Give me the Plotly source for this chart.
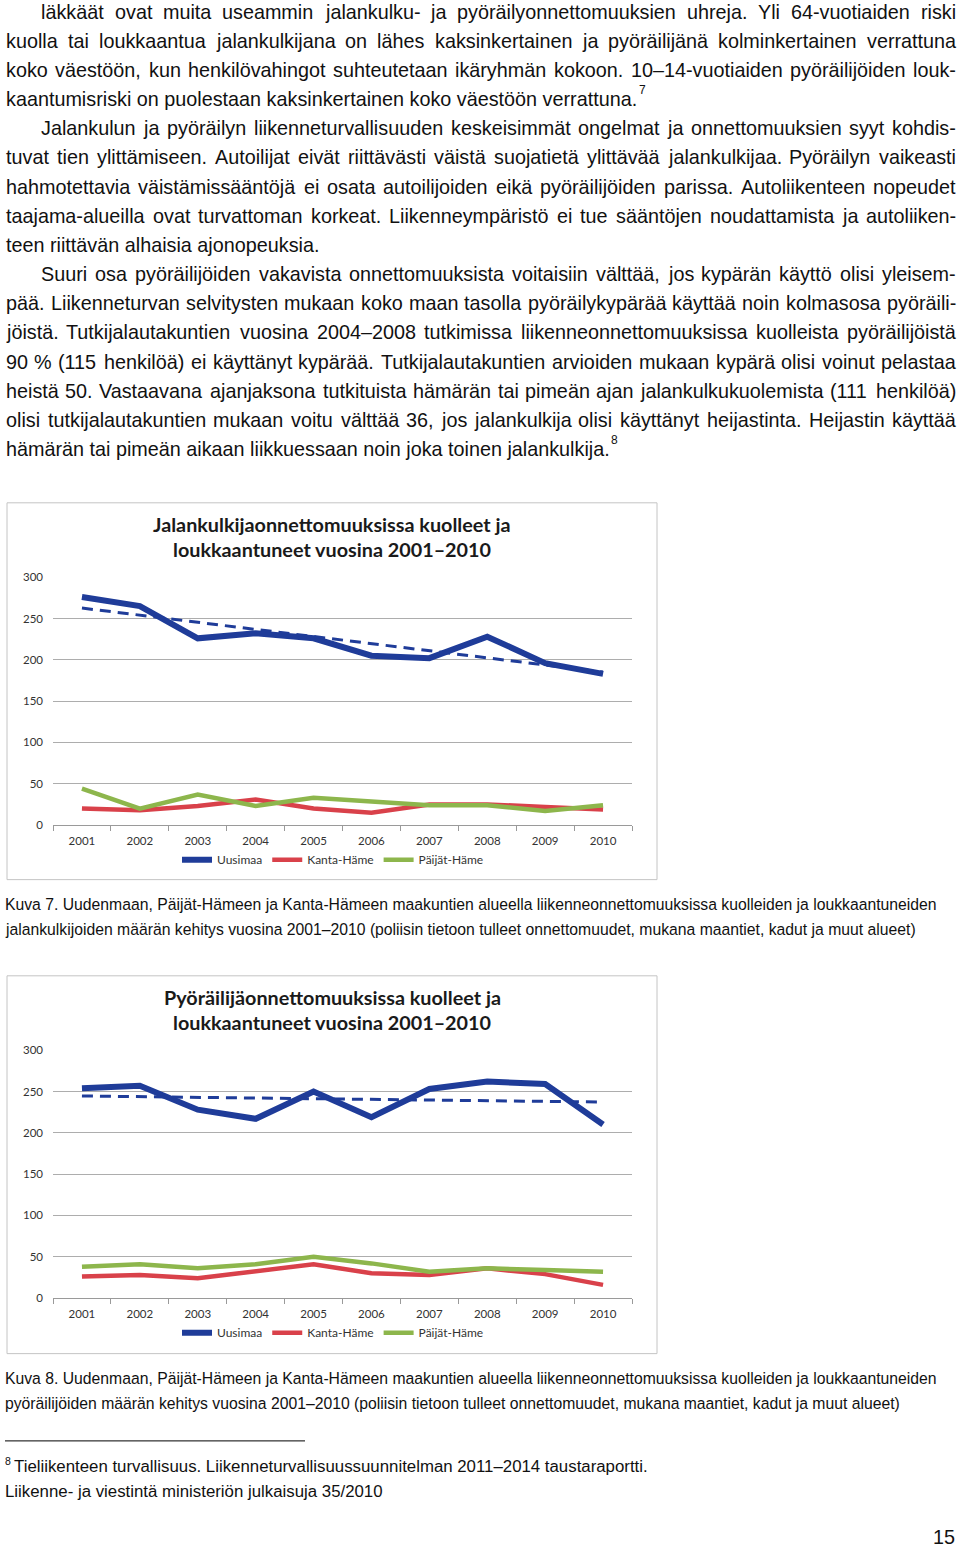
import plotly.graph_objects as go
import numpy as np

# ---------------- data ----------------
years = ["2001", "2002", "2003", "2004", "2005", "2006", "2007", "2008", "2009", "2010"]
series_names = ["Uusimaa", "Kanta-Häme", "Päijät-Häme"]
ped_uusimaa = [276, 265, 226, 232, 226, 205, 202, 228, 196, 183]
ped_kanta = [20, 18, 23, 31, 20, 15, 25, 25, 22, 19]
ped_paijat = [44, 20, 37, 23, 33, 28, 24, 24, 17, 24]
cyc_uusimaa = [254, 257, 228, 217, 250, 219, 253, 262, 259, 210]
cyc_kanta = [26, 28, 24, 33, 41, 30, 28, 36, 29, 16]
cyc_paijat = [38, 41, 36, 41, 50, 42, 32, 36, 34, 32]
y_ticks = [0, 50, 100, 150, 200, 250, 300]

title1 = ["Jalankulkijaonnettomuuksissa kuolleet ja", "loukkaantuneet vuosina 2001–2010"]
title2 = ["Pyöräilijäonnettomuuksissa kuolleet ja", "loukkaantuneet vuosina 2001–2010"]

body_lines = [
    ("läkkäät ovat muita useammin jalankulku- ja pyöräilyonnettomuuksien uhreja. Yli 64-vuotiaiden riski", True, True, None),
    ("kuolla tai loukkaantua jalankulkijana on lähes kaksinkertainen ja pyöräilijänä kolminkertainen verrattuna", False, True, None),
    ("koko väestöön, kun henkilövahingot suhteutetaan ikäryhmän kokoon. 10–14-vuotiaiden pyöräilijöiden louk-", False, True, None),
    ("kaantumisriski on puolestaan kaksinkertainen koko väestöön verrattuna.", False, False, "7"),
    ("Jalankulun ja pyöräilyn liikenneturvallisuuden keskeisimmät ongelmat ja onnettomuuksien syyt kohdis-", True, True, None),
    ("tuvat tien ylittämiseen. Autoilijat eivät riittävästi väistä suojatietä ylittävää jalankulkijaa. Pyöräilyn vaikeasti", False, True, None),
    ("hahmotettavia väistämissääntöjä ei osata autoilijoiden eikä pyöräilijöiden parissa. Autoliikenteen nopeudet", False, True, None),
    ("taajama-alueilla ovat turvattoman korkeat. Liikenneympäristö ei tue sääntöjen noudattamista ja autoliiken-", False, True, None),
    ("teen riittävän alhaisia ajonopeuksia.", False, False, None),
    ("Suuri osa pyöräilijöiden vakavista onnettomuuksista voitaisiin välttää, jos kypärän käyttö olisi yleisem-", True, True, None),
    ("pää. Liikenneturvan selvitysten mukaan koko maan tasolla pyöräilykypärää käyttää noin kolmasosa pyöräili-", False, True, None),
    ("jöistä. Tutkijalautakuntien vuosina 2004–2008 tutkimissa liikenneonnettomuuksissa kuolleista pyöräilijöistä", False, True, None),
    ("90 % (115 henkilöä) ei käyttänyt kypärää. Tutkijalautakuntien arvioiden mukaan kypärä olisi voinut pelastaa", False, True, None),
    ("heistä 50. Vastaavana ajanjaksona tutkituista hämärän tai pimeän ajan jalankulkukuolemista (111 henkilöä)", False, True, None),
    ("olisi tutkijalautakuntien mukaan voitu välttää 36, jos jalankulkija olisi käyttänyt heijastinta. Heijastin käyttää", False, True, None),
    ("hämärän tai pimeän aikaan liikkuessaan noin joka toinen jalankulkija.", False, False, "8"),
]
caption7 = ["Kuva 7. Uudenmaan, Päijät-Hämeen ja Kanta-Hämeen maakuntien alueella liikenneonnettomuuksissa kuolleiden ja loukkaantuneiden",
            "jalankulkijoiden määrän kehitys vuosina 2001–2010 (poliisin tietoon tulleet onnettomuudet, mukana maantiet, kadut ja muut alueet)"]
caption8 = ["Kuva 8. Uudenmaan, Päijät-Hämeen ja Kanta-Hämeen maakuntien alueella liikenneonnettomuuksissa kuolleiden ja loukkaantuneiden",
            "pyöräilijöiden määrän kehitys vuosina 2001–2010 (poliisin tietoon tulleet onnettomuudet, mukana maantiet, kadut ja muut alueet)"]
footnote = ["Tieliikenteen turvallisuus. Liikenneturvallisuussuunnitelman 2011–2014 taustaraportti.",
            "Liikenne- ja viestintä ministeriön julkaisuja 35/2010"]
page_no = "15"

# ---------------- helpers ----------------
W_PX, H_PX = 960, 1553
def X(px):
    return px / W_PX
def Y(py):
    return 1 - py / H_PX

# Arial / Liberation Sans advance widths (1/1000 em)
AW = {' ': 278, '.': 278, ',': 278, '-': 333, '–': 556, '%': 889, '(': 333, ')': 333, '/': 278, ':': 278,
      'a': 556, 'b': 556, 'c': 500, 'd': 556, 'e': 556, 'f': 278, 'g': 556, 'h': 556, 'i': 222, 'j': 222,
      'k': 500, 'l': 222, 'm': 833, 'n': 556, 'o': 556, 'p': 556, 'q': 556, 'r': 333, 's': 500, 't': 278,
      'u': 556, 'v': 500, 'w': 722, 'x': 500, 'y': 500, 'z': 500, 'ä': 556, 'ö': 556, 'å': 556,
      'A': 667, 'B': 667, 'C': 722, 'D': 722, 'E': 667, 'F': 611, 'G': 778, 'H': 722, 'I': 278, 'J': 500,
      'K': 667, 'L': 556, 'M': 833, 'N': 722, 'O': 778, 'P': 667, 'Q': 778, 'R': 722, 'S': 667, 'T': 611,
      'U': 722, 'V': 667, 'W': 944, 'X': 667, 'Y': 667, 'Z': 611, 'Ä': 667, 'Ö': 778}
def tw(s, size):
    return sum(AW.get(c, 556) for c in s) / 1000.0 * size

BODY_FONT = "Liberation Sans, Arial, Helvetica, sans-serif"
BODY_SIZE = 19.8
BODY_COLOR = "#111111"
CAP_FONT = "Liberation Sans, Arial, sans-serif"
CHART_FONT = "Lato, Open Sans, sans-serif"

BLUE = "#1F3C99"
RED = "#D9414A"
GREEN = "#8DB64C"

annotations = []
shapes = []

# ---------------- body text (justified) ----------------
LEFT, RIGHT, INDENT = 5, 955, 40
for i, (txt, indent, justify, sup) in enumerate(body_lines):
    base = 15.5 + i * 29.42
    mid = base - 0.35 * BODY_SIZE - 4
    left = INDENT if indent else LEFT
    if justify:
        words = txt.split(" ")
        widths = [tw(w, BODY_SIZE) for w in words]
        gap = (RIGHT - left - sum(widths)) / (len(words) - 1)
        x = left
        for w, ww in zip(words, widths):
            annotations.append(dict(text=w, x=X(x), y=Y(mid), xref="paper", yref="paper",
                                    xanchor="left", yanchor="middle", showarrow=False, borderpad=0,
                                    font=dict(family=BODY_FONT, size=BODY_SIZE, color=BODY_COLOR)))
            x += ww + gap
    else:
        annotations.append(dict(text=txt, x=X(left), y=Y(mid), xref="paper", yref="paper",
                                xanchor="left", yanchor="middle", showarrow=False, borderpad=0,
                                font=dict(family=BODY_FONT, size=BODY_SIZE, color=BODY_COLOR)))
        if sup:
            xe = left + tw(txt, BODY_SIZE) + 1
            annotations.append(dict(text=sup, x=X(xe), y=Y(mid - 9), xref="paper", yref="paper",
                                    xanchor="left", yanchor="middle", showarrow=False, borderpad=0,
                                    font=dict(family=BODY_FONT, size=12, color=BODY_COLOR)))

# ---------------- charts ----------------
fig = go.Figure()

def add_chart(idx, uus, kan, pai, legend_name):
    xa = "x" if idx == 1 else "x2"
    ya = "y" if idx == 1 else "y2"
    fig.add_trace(go.Scatter(x=years, y=uus, mode="lines", name=series_names[0],
                             line=dict(color=BLUE, width=6), xaxis=xa, yaxis=ya,
                             legend=legend_name, hoverinfo="skip"))
    fig.add_trace(go.Scatter(x=years, y=kan, mode="lines", name=series_names[1],
                             line=dict(color=RED, width=4.5), xaxis=xa, yaxis=ya,
                             legend=legend_name, hoverinfo="skip"))
    fig.add_trace(go.Scatter(x=years, y=pai, mode="lines", name=series_names[2],
                             line=dict(color=GREEN, width=4.5), xaxis=xa, yaxis=ya,
                             legend=legend_name, hoverinfo="skip"))
    # linear trendline of the Uusimaa series
    xi = np.arange(len(years))
    k, b = np.polyfit(xi, np.array(uus, dtype=float), 1)
    fig.add_trace(go.Scatter(x=years, y=(k * xi + b).tolist(), mode="lines",
                             line=dict(color=BLUE, width=3, dash="11px,7px"),
                             xaxis=xa, yaxis=ya, showlegend=False, hoverinfo="skip"))

add_chart(1, ped_uusimaa, ped_kanta, ped_paijat, "legend")
add_chart(2, cyc_uusimaa, cyc_kanta, cyc_paijat, "legend2")

tickfont = dict(family=CHART_FONT, size=11.5, color="#333333")
def xaxis_cfg(anchor):
    return dict(domain=[X(53), X(632)], anchor=anchor, type="category", range=[-0.5, 9.5],
                showline=True, linecolor="#9A9A9A", linewidth=1, ticks="outside", tickson="boundaries",
                ticklen=5, tickcolor="#9A9A9A", showgrid=False, tickfont=tickfont,
                ticklabelstandoff=5, fixedrange=True)
def yaxis_cfg(anchor, y0px, y300px):
    return dict(domain=[Y(y0px), Y(y300px)], anchor=anchor, range=[0, 300], tickvals=y_ticks,
                showgrid=True, gridcolor="#ADADAD", gridwidth=1, zeroline=False, showline=False,
                ticks="", ticklabelstandoff=9, tickfont=tickfont, fixedrange=True)

legend_cfg = dict(orientation="h", x=X(333), xanchor="center", yanchor="middle",
                  font=dict(family=CHART_FONT, size=12, color="#333333"),
                  bgcolor="rgba(0,0,0,0)", itemwidth=30, tracegroupgap=0)

# chart frames
for (y0, y1) in [(500, 880), (977, 1358)]:
    shapes.append(dict(type="rect", xref="paper", yref="paper", x0=X(7), x1=X(657), y0=Y(y1), y1=Y(y0),
                       line=dict(color="#C4C4C4", width=1), fillcolor="rgba(0,0,0,0)", layer="below"))

# chart titles
for lines, ys in [(title1, (521, 547)), (title2, (998, 1024))]:
    for t, yy in zip(lines, ys):
        annotations.append(dict(text="<b>" + t + "</b>", x=X(332), y=Y(yy), xref="paper", yref="paper",
                                xanchor="center", yanchor="middle", showarrow=False, borderpad=0,
                                font=dict(family=CHART_FONT, size=19.8, color="#1A1A1A")))

# captions (fit the regular face to the reference line width)
CAP_SIZE = 932 / tw(caption7[0], 1)
for lines, ys in [(caption7, (905, 930)), (caption8, (1383, 1408))]:
    for t, yy in zip(lines, ys):
        annotations.append(dict(text=t, x=X(4), y=Y(yy), xref="paper", yref="paper",
                                xanchor="left", yanchor="middle", showarrow=False, borderpad=0,
                                font=dict(family=CAP_FONT, size=CAP_SIZE, color=BODY_COLOR)))

# footnote
FOOT_SIZE = 636 / tw(footnote[0], 1)
shapes.append(dict(type="line", xref="paper", yref="paper", x0=X(5), x1=X(305), y0=Y(1446), y1=Y(1446),
                   line=dict(color="#000000", width=1)))
annotations.append(dict(text="8", x=X(4), y=Y(1466), xref="paper", yref="paper", xanchor="left",
                        yanchor="middle", showarrow=False, borderpad=0,
                        font=dict(family=CAP_FONT, size=10.5, color=BODY_COLOR)))
annotations.append(dict(text=footnote[0], x=X(13), y=Y(1472), xref="paper", yref="paper", xanchor="left",
                        yanchor="middle", showarrow=False, borderpad=0,
                        font=dict(family=CAP_FONT, size=FOOT_SIZE, color=BODY_COLOR)))
annotations.append(dict(text=footnote[1], x=X(4), y=Y(1497), xref="paper", yref="paper", xanchor="left",
                        yanchor="middle", showarrow=False, borderpad=0,
                        font=dict(family=CAP_FONT, size=FOOT_SIZE, color=BODY_COLOR)))
annotations.append(dict(text=page_no, x=X(956), y=Y(1543), xref="paper", yref="paper", xanchor="right",
                        yanchor="middle", showarrow=False, borderpad=0,
                        font=dict(family=BODY_FONT, size=BODY_SIZE, color=BODY_COLOR)))

fig.update_layout(
    width=W_PX, height=H_PX, margin=dict(l=0, r=0, t=0, b=0),
    paper_bgcolor="white", plot_bgcolor="white",
    xaxis=xaxis_cfg("y"), yaxis=yaxis_cfg("x", 825, 575),
    xaxis2=xaxis_cfg("y2"), yaxis2=yaxis_cfg("x2", 1302, 1052),
    legend=dict(legend_cfg, y=Y(860)),
    legend2=dict(legend_cfg, y=Y(1337)),
    annotations=annotations, shapes=shapes, showlegend=True,
    hovermode=False,
)

fig.write_html("out.html", config={"displayModeBar": False, "staticPlot": True},
               post_script="document.body.style.margin='0';document.body.style.overflow='hidden';")
